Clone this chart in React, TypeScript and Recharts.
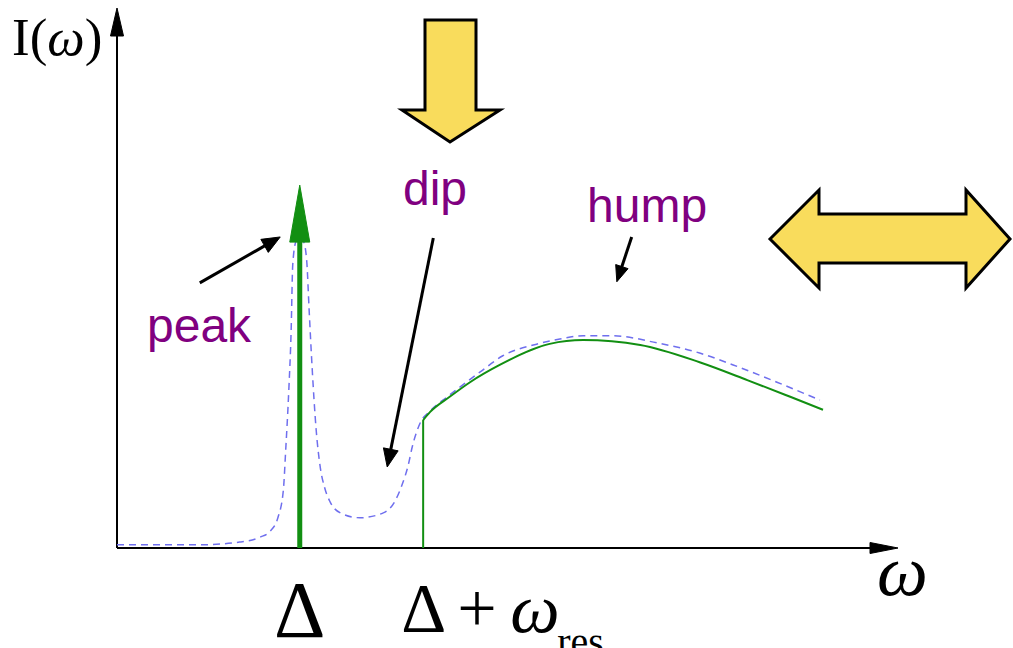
import React from 'react';
import { ComposedChart, Line, XAxis, YAxis, ReferenceLine } from 'recharts';

// spectral weight, with the resonance broadening (dashed)
const dashedOmega = [
  0, 1.06, 1.57, 1.83, 1.96, 2.06, 2.13, 2.16, 2.2, 2.23, 2.25, 2.29, 2.34, 2.39, 2.43, 2.46,
  2.5, 2.55, 2.6, 2.66, 2.73, 2.86, 3.11, 3.41, 3.56, 3.65, 3.73, 3.78, 3.88, 4.01, 4.23, 4.39,
  4.65, 4.94, 5.33, 5.67, 5.97, 6.35, 6.91, 7.46, 7.89, 8.45, 9.0,
];
const dashedIntensity = [
  0.06, 0.06, 0.11, 0.2, 0.31, 0.56, 1.07, 1.81, 2.93, 4.04, 5.24, 5.67, 5.76, 5.67, 5.3, 4.41,
  3.3, 2.19, 1.52, 1.11, 0.85, 0.65, 0.56, 0.65, 0.87, 1.17, 1.54, 1.87, 2.31, 2.54, 2.8, 2.98,
  3.26, 3.56, 3.76, 3.87, 3.93, 3.93, 3.8, 3.61, 3.39, 3.07, 2.74,
];

// bare continuum starting at the threshold
const solidOmega = [3.92, 4.01, 4.26, 4.52, 4.9, 5.54, 5.97, 6.7, 7.46, 8.07, 8.62, 9.04];
const solidIntensity = [2.37, 2.52, 2.8, 3.07, 3.39, 3.78, 3.85, 3.76, 3.44, 3.11, 2.8, 2.56];

const DELTA = 2.34;
const DELTA_RES = 3.92;
const PEAK_TOP = 6.72;
const xTicks = [DELTA, DELTA_RES];

// annotation arrows [from, to] in (omega, intensity)
const peakPointer = [{ x: 1.06, y: 4.91 }, { x: 2.09, y: 5.76 }];
const dipPointer = [{ x: 4.05, y: 5.74 }, { x: 3.46, y: 1.5 }];
const humpPointer = [{ x: 6.59, y: 5.76 }, { x: 6.4, y: 4.93 }];

const dashedData = dashedOmega.map((w, i) => ({ omega: w, intensity: dashedIntensity[i] }));
const solidData = solidOmega.map((w, i) => ({ omega: w, intensity: solidIntensity[i] }));

const SERIF = '"Liberation Serif", "Times New Roman", serif';
const SANS = '"Liberation Sans", Arial, sans-serif';
const PURPLE = '#800080';
const GREEN = '#128f12';
const YELLOW = '#f9dc5c';

const arrowShape = (headLen: number, headWidth: number, color: string, width: number) => (p: any) => {
  const { x1, y1, x2, y2 } = p;
  const dx = x2 - x1;
  const dy = y2 - y1;
  const len = Math.hypot(dx, dy) || 1;
  const ux = dx / len;
  const uy = dy / len;
  const bx = x2 - ux * headLen;
  const by = y2 - uy * headLen;
  const nx = -uy * (headWidth / 2);
  const ny = ux * (headWidth / 2);
  return (
    <g>
      <line x1={x1} y1={y1} x2={bx + ux * 1} y2={by + uy * 1} stroke={color} strokeWidth={width} />
      <polygon
        points={`${x2},${y2} ${bx + nx},${by + ny} ${bx - nx},${by - ny}`}
        fill={color}
        stroke={color}
        strokeWidth={1}
        strokeLinejoin="miter"
      />
    </g>
  );
};

const XTick = (props: any) => {
  const { x, y, payload } = props;
  if (payload.value === DELTA) {
    return (
      <text x={x} y={y + 89} textAnchor="middle" fontFamily={SERIF} fontSize={80} fill="#000">
        Δ
      </text>
    );
  }
  return (
    <text y={y + 84} fontFamily={SERIF} fill="#000">
      <tspan x={x - 22} fontSize={70}>Δ</tspan>
      <tspan x={x + 34} fontSize={70}>+</tspan>
      <tspan x={x + 87} fontSize={70} fontStyle="italic">ω</tspan>
      <tspan x={x + 134} y={y + 107} fontSize={40}>res</tspan>
    </text>
  );
};

export default function App() {
  return (
    <div style={{ position: 'absolute', left: 0, top: 0, width: 1013, height: 648, background: '#fff' }}>
      <ComposedChart width={1013} height={648} margin={{ top: 8, right: 115, bottom: 0, left: 117 }}>
        <XAxis
          type="number"
          dataKey="omega"
          domain={[0, 10]}
          ticks={xTicks}
          interval={0}
          tick={<XTick />}
          axisLine={false}
          tickLine={false}
          tickSize={0}
          tickMargin={0}
          height={100}
          allowDataOverflow
        />
        <YAxis type="number" domain={[0, 10]} hide allowDataOverflow />

        {/* axes with arrow heads */}
        <ReferenceLine
          segment={[{ x: 0, y: 0 }, { x: 10, y: 0 }]}
          ifOverflow="visible"
          shape={arrowShape(28, 11, '#000', 2)}
        />
        <ReferenceLine
          segment={[{ x: 0, y: 0 }, { x: 0, y: 10 }]}
          ifOverflow="visible"
          shape={arrowShape(28, 13, '#000', 2)}
        />

        <Line
          data={dashedData}
          dataKey="intensity"
          type="monotone"
          stroke="#6f6fee"
          strokeWidth={1.5}
          strokeDasharray="7 5"
          dot={false}
          isAnimationActive={false}
        />
        <Line
          data={solidData}
          dataKey="intensity"
          type="monotone"
          stroke={GREEN}
          strokeWidth={2}
          dot={false}
          isAnimationActive={false}
        />

        {/* threshold edge of the continuum */}
        <ReferenceLine
          segment={[{ x: DELTA_RES, y: 0 }, { x: DELTA_RES, y: solidIntensity[0] }]}
          ifOverflow="visible"
          stroke={GREEN}
          strokeWidth={2}
        />
        {/* delta-function bound state */}
        <ReferenceLine
          segment={[{ x: DELTA, y: 0 }, { x: DELTA, y: PEAK_TOP }]}
          ifOverflow="visible"
          shape={arrowShape(57, 20, GREEN, 5)}
        />

        <ReferenceLine segment={peakPointer} ifOverflow="visible" shape={arrowShape(18, 15, '#000', 3)} />
        <ReferenceLine segment={dipPointer} ifOverflow="visible" shape={arrowShape(18, 15, '#000', 3)} />
        <ReferenceLine segment={humpPointer} ifOverflow="visible" shape={arrowShape(16, 13, '#000', 3)} />
      </ComposedChart>

      <svg
        width={1013}
        height={648}
        style={{ position: 'absolute', left: 0, top: 0, pointerEvents: 'none' }}
      >
        <text x={12} y={55} fontFamily={SERIF} fontSize={53} fill="#000">
          <tspan>I(</tspan>
          <tspan fontStyle="italic">ω</tspan>
          <tspan>)</tspan>
        </text>
        <text x={877} y={595} fontFamily={SERIF} fontSize={72} fontStyle="italic" fill="#000">
          ω
        </text>

        <text x={147} y={342} fontFamily={SANS} fontSize={48} fill={PURPLE}>peak</text>
        <text x={403} y={205} fontFamily={SANS} fontSize={48} fill={PURPLE}>dip</text>
        <text x={587} y={222} fontFamily={SANS} fontSize={48} fill={PURPLE}>hump</text>

        <polygon
          points="425,20 476,20 476,110 500,110 450,142 402,110 425,110"
          fill={YELLOW}
          stroke="#000"
          strokeWidth={3}
          strokeLinejoin="miter"
        />
        <polygon
          points="770,239 819,190 819,214 966,214 966,190 1010,239 966,288 966,263 819,263 819,288"
          fill={YELLOW}
          stroke="#000"
          strokeWidth={3}
          strokeLinejoin="miter"
        />
      </svg>
    </div>
  );
}
